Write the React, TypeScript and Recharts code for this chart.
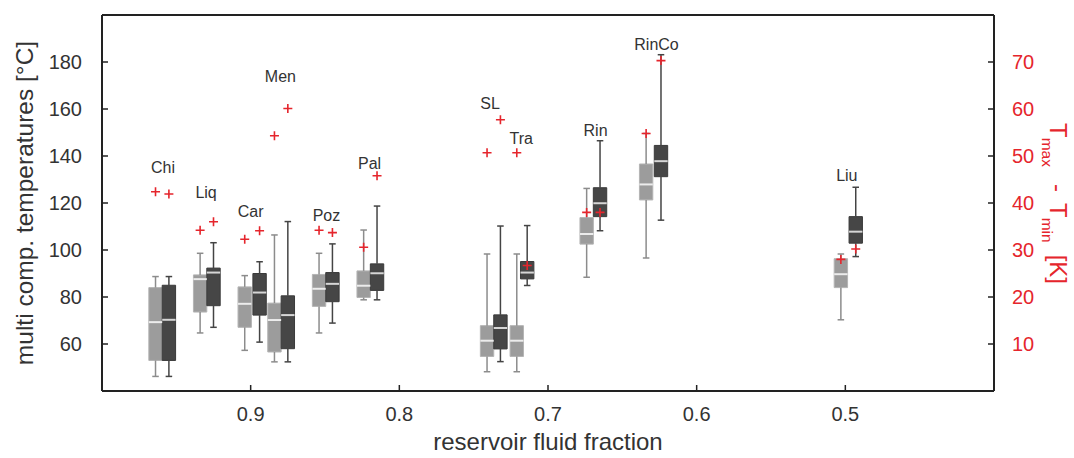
import React from "react";
import { ComposedChart, XAxis, YAxis, Scatter, ReferenceArea, ReferenceLine } from "recharts";

const groups = ["Chi", "Liq", "Car", "Men", "Poz", "Pal", "SL", "Tra", "Rin", "RinCo", "Liu"];

// reservoir fluid fraction where each box stands
const lightPos = [0.964, 0.934, 0.904, 0.884, 0.854, 0.824, 0.741, 0.721, 0.674, 0.634, 0.503];
const darkPos = [0.955, 0.925, 0.894, 0.875, 0.845, 0.815, 0.732, 0.714, 0.665, 0.624, 0.493];

// [lower whisker, q1, median, q3, upper whisker] in °C
const lightStats = [
  [46.2, 53, 69.3, 84, 88.7],
  [64.7, 73.6, 87.6, 89.4, 98.6],
  [57.3, 67.1, 77.1, 84.3, 89.1],
  [52.4, 56.6, 70.2, 77.4, 106.4],
  [64.7, 76, 83.5, 89.6, 98.6],
  [78.8, 79.8, 84.8, 91.1, 108.5],
  [48.2, 54.7, 61.4, 67.8, 98.3],
  [48.2, 54.7, 61.4, 67.8, 98.3],
  [88.4, 102.5, 106.8, 113.8, 126.2],
  [96.6, 121.3, 127.9, 136.6, 149.6],
  [70.3, 84, 89.7, 96.3, 98.3],
];
const darkStats = [
  [46.2, 53, 70.3, 85, 88.7],
  [67.1, 76.3, 90.4, 92.3, 103.1],
  [60.8, 72.3, 81.9, 90, 95],
  [52.4, 58, 72.3, 80.5, 112.1],
  [68.9, 78, 85.6, 90.4, 102.6],
  [78.8, 82.8, 90.1, 94.1, 118.7],
  [52.5, 57.9, 66.8, 72.4, 110.2],
  [84.9, 87.7, 90.4, 95.1, 110.4],
  [108.2, 114.2, 119.9, 126.5, 146.5],
  [112.7, 131.2, 137.8, 144.5, 183.1],
  [97.2, 102.9, 107.8, 114.2, 126.7],
];

// Tmax - Tmin [K] (red crosses, right axis)
const lightRange = [42.4, 34.2, 32.3, 54.3, 34.2, 30.6, 50.7, 50.7, 38, 54.8, 28];
const darkRange = [41.9, 36, 34.1, 60.1, 33.7, 45.8, 57.7, 26.7, 38, 70.3, 30.2];

// where the group names sit (fraction, °C)
const labelPos = [0.959, 0.93, 0.9, 0.88, 0.849, 0.82, 0.739, 0.718, 0.668, 0.627, 0.499];
const labelTemp = [134.9, 124.5, 116.3, 174, 114.5, 136.9, 162.3, 147.5, 150.7, 187.5, 131.9];

const xTicks = [0.5, 0.6, 0.7, 0.8, 0.9];
const leftTicks = [60, 80, 100, 120, 140, 160, 180];
const rightTicks = [10, 20, 30, 40, 50, 60, 70];

const RED = "#e5252c";
const INK = "#333";
const FONT = "'Liberation Sans', Arial, sans-serif";
const HALF = 0.0045;
const CAP = 0.0022;

const crosses = [
  ...lightPos.map((x, i) => ({ x, y: lightRange[i] })),
  ...darkPos.map((x, i) => ({ x, y: darkRange[i] })),
];
const names = groups.map((name, i) => ({ name, x: labelPos[i], y: labelTemp[i] }));

function drawBox(key: string, x: number, s: number[], dark: boolean) {
  const [lo, q1, med, q3, hi] = s;
  const whisker = dark ? "#444" : "#8c8c8c";
  const common = { xAxisId: "f", yAxisId: "t", ifOverflow: "visible" as const };
  return [
    <ReferenceLine key={key + "a"} {...common} segment={[{ x, y: lo }, { x, y: q1 }]} stroke={whisker} strokeWidth={1.5} />,
    <ReferenceLine key={key + "b"} {...common} segment={[{ x, y: q3 }, { x, y: hi }]} stroke={whisker} strokeWidth={1.5} />,
    <ReferenceLine key={key + "c"} {...common} segment={[{ x: x - CAP, y: lo }, { x: x + CAP, y: lo }]} stroke={whisker} strokeWidth={1.5} />,
    <ReferenceLine key={key + "d"} {...common} segment={[{ x: x - CAP, y: hi }, { x: x + CAP, y: hi }]} stroke={whisker} strokeWidth={1.5} />,
    <ReferenceArea
      key={key + "e"}
      {...common}
      x1={x - HALF}
      x2={x + HALF}
      y1={q1}
      y2={q3}
      fill={dark ? "#464646" : "#9c9c9c"}
      fillOpacity={1}
      stroke={dark ? "#3a3a3a" : "#b4b4b4"}
      strokeWidth={1}
    />,
    <ReferenceLine
      key={key + "f"}
      {...common}
      segment={[{ x: x - HALF, y: med }, { x: x + HALF, y: med }]}
      stroke={dark ? "#d6d6d6" : "#ececec"}
      strokeWidth={2}
    />,
  ];
}

const Cross = (p: any) => (
  <path
    d={`M${p.cx - 4.5},${p.cy}H${p.cx + 4.5}M${p.cx},${p.cy - 4.5}V${p.cy + 4.5}`}
    stroke={RED}
    strokeWidth={1.6}
    fill="none"
  />
);

const Name = (p: any) => (
  <text x={p.cx} y={p.cy} textAnchor="middle" dominantBaseline="central" fontSize={16} fill={INK} fontFamily={FONT}>
    {p.payload.name}
  </text>
);

const LeftTitle = (p: any) => {
  const vb = p.viewBox;
  const cx = vb.x + 33;
  const cy = vb.y + vb.height / 2;
  return (
    <text x={cx} y={cy} transform={`rotate(-90 ${cx} ${cy})`} textAnchor="middle" fontSize={24.5} fill={INK} fontFamily={FONT}>
      multi comp. temperatures [°C]
    </text>
  );
};

const RightTitle = (p: any) => {
  const vb = p.viewBox;
  const cx = vb.x + 56;
  const cy = vb.y + 108;
  return (
    <text x={cx} y={cy} transform={`rotate(90 ${cx} ${cy})`} textAnchor="start" fontSize={24} fill={RED} fontFamily={FONT}>
      <tspan>T</tspan>
      <tspan fontSize={15.5} dy={8}>max</tspan>
      <tspan dy={-8} dx={17}>-</tspan>
      <tspan dx={11}>T</tspan>
      <tspan fontSize={15.5} dy={8}>min</tspan>
      <tspan dy={-8} dx={12}>[K]</tspan>
    </text>
  );
};

const BottomTitle = (p: any) => {
  const vb = p.viewBox;
  return (
    <text x={vb.x + vb.width / 2} y={vb.y + 59} textAnchor="middle" fontSize={24} fill={INK} fontFamily={FONT}>
      reservoir fluid fraction
    </text>
  );
};

export default function App() {
  return (
    <div style={{ position: "absolute", left: 0, top: 0, width: 1074, height: 458, background: "#fff" }}>
      <ComposedChart width={1074} height={458} margin={{ top: 15, right: 0, bottom: 0, left: 0 }} style={{ fontFamily: FONT }}>
        <XAxis
          xAxisId="f"
          dataKey="x"
          type="number"
          domain={[0.4, 1]}
          reversed
          allowDataOverflow
          ticks={xTicks}
          tickFormatter={(v: number) => v.toFixed(1)}
          height={67}
          tickSize={-6}
          tickMargin={22}
          axisLine={{ stroke: "#222", strokeWidth: 2 }}
          tickLine={{ stroke: "#222", strokeWidth: 1.5 }}
          tick={{ fill: INK, fontSize: 20 }}
          label={<BottomTitle />}
        />
        <YAxis
          yAxisId="t"
          dataKey="y"
          type="number"
          domain={[40, 200]}
          allowDataOverflow
          ticks={leftTicks}
          width={102}
          tickSize={-6}
          tickMargin={26}
          axisLine={{ stroke: "#222", strokeWidth: 2 }}
          tickLine={{ stroke: "#222", strokeWidth: 1.5 }}
          tick={{ fill: INK, fontSize: 20 }}
          label={<LeftTitle />}
        />
        <YAxis
          yAxisId="k"
          orientation="right"
          dataKey="y"
          type="number"
          domain={[0, 80]}
          allowDataOverflow
          ticks={rightTicks}
          width={80}
          tickSize={-6}
          tickMargin={24}
          axisLine={{ stroke: "#222", strokeWidth: 2 }}
          tickLine={{ stroke: "#222", strokeWidth: 1.5 }}
          tick={{ fill: RED, fontSize: 20, textAnchor: "start" }}
          label={<RightTitle />}
        />
        <ReferenceLine xAxisId="f" yAxisId="t" y={200} stroke="#222" strokeWidth={2} ifOverflow="visible" />
        {groups.map((g, i) => drawBox(g + "L", lightPos[i], lightStats[i], false))}
        {groups.map((g, i) => drawBox(g + "D", darkPos[i], darkStats[i], true))}
        <Scatter xAxisId="f" yAxisId="k" data={crosses} dataKey="y" shape={Cross} isAnimationActive={false} />
        <Scatter xAxisId="f" yAxisId="t" data={names} dataKey="y" shape={Name} isAnimationActive={false} />
      </ComposedChart>
    </div>
  );
}
